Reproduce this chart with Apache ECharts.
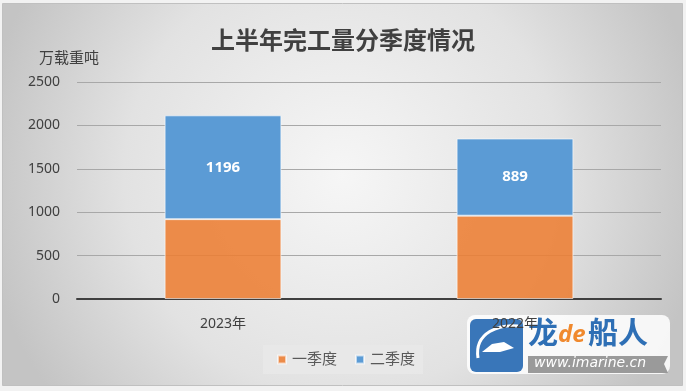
<!DOCTYPE html>
<html>
<head>
<meta charset="utf-8">
<script src="https://cdn.jsdelivr.net/npm/echarts@6/dist/echarts.min.js"></script>
<style>
html,body{margin:0;padding:0;background:#f2f2f2;}
#chart{width:686px;height:391px;}
</style>
</head>
<body>
<div id="chart"></div>
<script>
const titleText = '上半年完工量分季度情况';
const unitText = '万载重吨';
const categories = ['2023年', '2022年'];
const seriesNames = ['一季度', '二季度'];
const q1Values = [920, 960];
const q2Values = [1196, 889];
const yTicks = { min: 0, max: 2500, interval: 500 };

const FONT = '"Noto Sans", "Noto Sans CJK SC", sans-serif';
const chart = echarts.init(document.getElementById('chart'), null, { renderer: 'canvas' });

chart.setOption({
  animation: false,
  textStyle: { fontFamily: FONT },
  graphic: [
    {
      type: 'rect', z: -10, silent: true,
      shape: { x: 2.5, y: 3.5, width: 680, height: 382 },
      style: {
        fill: {
          type: 'radial', x: 0.5, y: 0.45, r: 0.95,
          colorStops: [
            { offset: 0, color: '#f6f6f6' },
            { offset: 0.6, color: '#e2e2e2' },
            { offset: 1, color: '#c4c4c4' }
          ]
        },
        stroke: '#c0c0c0', lineWidth: 1
      }
    },
    {
      type: 'group', left: 467, top: 315, z: 100, silent: true,
      children: [
        { type: 'rect', shape: { x: -3, y: -3, width: 203, height: 59, r: 8 }, style: { fill: '#ffffff', opacity: 0.85 } },
        { type: 'rect', shape: { x: 0, y: 1, width: 53, height: 53, r: 6 }, style: { fill: '#2e6fb5', opacity: 0.95 } },
        { type: 'polygon', shape: { points: [[12, 34], [22, 26], [34, 24], [44, 30], [30, 34]] }, style: { fill: '#ffffff' } },
        { type: 'bezierCurve', shape: { x1: 8, y1: 40, x2: 48, y2: 8, cpx1: 4, cpy1: 14, cpx2: 30, cpy2: 6 }, style: { stroke: '#ffffff', lineWidth: 3, fill: null } },
        { type: 'text', x: 58, y: -1, style: { text: '龙', font: 'bold 30px "Noto Sans CJK SC"', fill: '#2e6fb5' } },
        { type: 'text', x: 88, y: 5, style: { text: 'de', font: 'italic bold 24px "Noto Sans", sans-serif', fill: '#f0892e' } },
        { type: 'text', x: 118, y: -1, style: { text: '船人', font: 'bold 30px "Noto Sans CJK SC"', fill: '#2e6fb5' } },
        { type: 'polygon', shape: { points: [[58, 38], [198, 38], [194, 46], [198, 55], [58, 55]] }, style: { fill: '#9a9a9a' } },
        { type: 'text', x: 64, y: 38, style: { text: 'www.imarine.cn', font: 'italic 14px "DejaVu Sans", sans-serif', fill: '#ffffff' } }
      ]
    }
  ],
  title: [
    {
      text: titleText, left: 'center', top: 25,
      textStyle: { fontSize: 24, fontWeight: 'bold', color: '#404040', fontFamily: FONT }
    },
    {
      text: unitText, left: 34, top: 46,
      textStyle: { fontSize: 15, fontWeight: 'normal', color: '#404040', fontFamily: FONT }
    }
  ],
  legend: {
    data: seriesNames,
    left: 263, top: 345,
    padding: [7, 8, 7, 14],
    itemWidth: 8, itemHeight: 8, itemGap: 18,
    icon: 'rect',
    backgroundColor: 'rgba(232,232,232,0.9)',
    textStyle: { fontSize: 15, color: '#595959', fontFamily: FONT, padding: [0, 0, 0, 1] }
  },
  grid: { left: 77, right: 25, top: 82, bottom: 92, containLabel: false },
  xAxis: {
    type: 'category', data: categories,
    axisLine: { lineStyle: { color: '#3f3f3f', width: 2 } },
    axisTick: { show: false },
    axisLabel: { fontSize: 14, color: '#404040', margin: 18, fontFamily: FONT }
  },
  yAxis: {
    type: 'value', min: yTicks.min, max: yTicks.max, interval: yTicks.interval,
    axisLine: { show: false }, axisTick: { show: false },
    axisLabel: { fontSize: 14, color: '#404040', margin: 17, fontFamily: FONT, formatter: v => String(v) },
    splitLine: { lineStyle: { color: '#a8a8a8', width: 1 } }
  },
  series: [
    {
      name: seriesNames[0], type: 'bar', stack: 'total', data: q1Values,
      barWidth: '40%',
      itemStyle: { color: 'rgba(237,125,49,0.87)', borderColor: 'rgba(255,255,255,0.6)', borderWidth: 1 },
      label: { show: false }
    },
    {
      name: seriesNames[1], type: 'bar', stack: 'total', data: q2Values,
      barWidth: '40%',
      itemStyle: { color: '#5b9bd5', borderColor: 'rgba(255,255,255,0.6)', borderWidth: 1 },
      label: { show: true, position: 'inside', color: '#ffffff', fontSize: 15, fontWeight: 'bold', fontFamily: FONT }
    }
  ]
});
</script>
</body>
</html>
